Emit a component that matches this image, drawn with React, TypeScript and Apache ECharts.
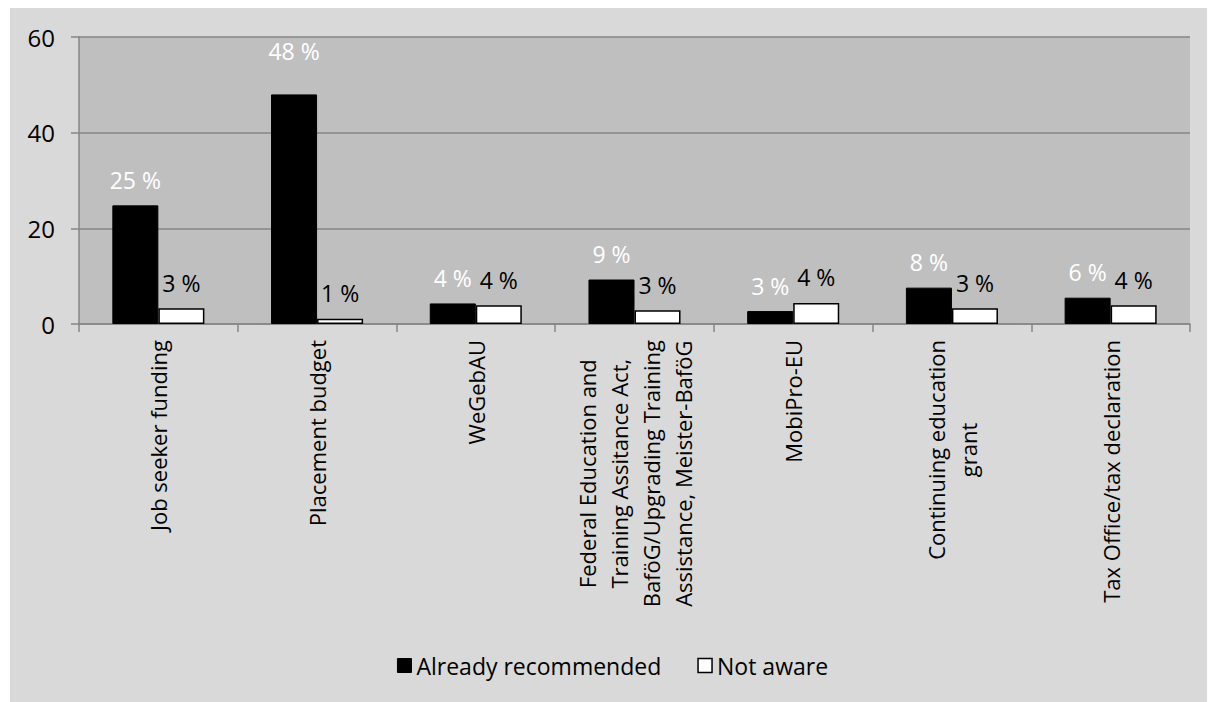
import React, { useEffect, useRef } from "react";
import * as echarts from "echarts";

const categories = [
  "Job seeker funding",
  "Placement budget",
  "WeGebAU",
  "Federal Education and\nTraining Assitance Act,\nBaföG/Upgrading Training\nAssistance, Meister-BaföG",
  "MobiPro-EU",
  "Continuing education\ngrant",
  "Tax Office/tax declaration",
];
const alreadyRecommended = [24.8, 48, 4.3, 9.3, 2.7, 7.6, 5.5];
const notAware = [3.3, 1.1, 3.9, 2.9, 4.4, 3.3, 3.9];
const yTicks = { min: 0, max: 60, interval: 20 };
const FONT = "Open Sans";

export default function App() {
  const ref = useRef<HTMLDivElement>(null);
  useEffect(() => {
    if (!ref.current) return;
    const chart = echarts.init(ref.current, null, { renderer: "svg" });
    const fmt = (p: any) => `${Math.round(p.value)} %`;
    chart.setOption({
      animation: false,
      backgroundColor: "#d9d9d9",
      textStyle: { fontFamily: FONT },
      grid: {
        left: 69,
        top: 29,
        right: 25,
        bottom: 378,
        show: true,
        backgroundColor: "#bfbfbf",
        borderWidth: 0,
      },
      legend: {
        bottom: 20,
        left: "center",
        itemWidth: 14,
        itemHeight: 14,
        itemGap: 36,
        icon: "rect",
        textStyle: { fontSize: 23, color: "#000", fontFamily: FONT },
        data: [
          { name: "Already recommended", itemStyle: { color: "#000", borderColor: "#000", borderWidth: 1 } },
          { name: "Not aware", itemStyle: { color: "#fff", borderColor: "#000", borderWidth: 1.5 } },
        ],
      },
      xAxis: {
        type: "category",
        data: categories,
        axisLine: { lineStyle: { color: "#868686", width: 1.5 } },
        axisTick: { show: true, length: 8, lineStyle: { color: "#868686", width: 1.5 } },
        axisLabel: {
          rotate: 90,
          margin: 16,
          color: "#000",
          fontSize: 22,
          fontFamily: FONT,
          interval: 0,
          lineHeight: 32,
          formatter: (v: string) => v.split("\n").map((l) => `{a|${l}}`).join("\n"),
          rich: { a: { align: "center", fontSize: 22, lineHeight: 32, color: "#000", fontFamily: FONT } },
        },
      },
      yAxis: {
        type: "value",
        min: yTicks.min,
        max: yTicks.max,
        interval: yTicks.interval,
        axisLine: { show: true, lineStyle: { color: "#868686", width: 1.5 } },
        axisTick: { show: true, length: 8, lineStyle: { color: "#868686", width: 1.5 } },
        axisLabel: { color: "#000", fontSize: 24, margin: 24, fontFamily: FONT },
        splitLine: { lineStyle: { color: "#868686", width: 1.5 } },
      },
      series: [
        {
          name: "Already recommended",
          type: "bar",
          data: alreadyRecommended.map((v, i) =>
            i === 1 ? { value: v, label: { distance: 32 } } : v
          ),
          barGap: "0%",
          barCategoryGap: "42%",
          itemStyle: { color: "#000", borderColor: "#000", borderWidth: 1 },
          label: {
            show: true,
            position: "top",
            distance: 14,
            color: "#fff",
            fontSize: 23,
            fontFamily: FONT,
            formatter: fmt,
          },
        },
        {
          name: "Not aware",
          type: "bar",
          data: notAware,
          barGap: "0%",
          barCategoryGap: "42%",
          itemStyle: { color: "#fff", borderColor: "#000", borderWidth: 1.5 },
          label: {
            show: true,
            position: "top",
            distance: 14,
            color: "#000",
            fontSize: 23,
            fontFamily: FONT,
            formatter: fmt,
          },
        },
      ],
    });
    return () => chart.dispose();
  }, []);
  return <div ref={ref} style={{ width: 1205, height: 694, marginLeft: 2 }} />;
}
